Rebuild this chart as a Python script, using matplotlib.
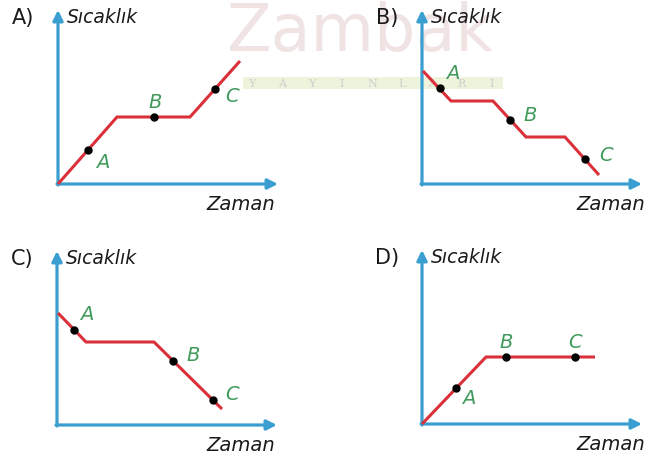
import matplotlib
matplotlib.use("Agg")
import matplotlib.pyplot as plt
from matplotlib.patches import Rectangle

# panel data (time, temperature) in arbitrary units
a_time = [0, 5.9, 13.2, 18.2]
a_temp = [0, 6.7, 6.7, 12.3]
a_dot_time = [3.0, 9.6, 15.7]
a_dot_temp = [3.4, 6.7, 9.5]

b_time = [0.1, 2.9, 7.1, 10.4, 14.3, 17.7]
b_temp = [11.3, 8.3, 8.3, 4.7, 4.7, 0.9]
b_dot_time = [1.8, 8.8, 16.3]
b_dot_temp = [9.6, 6.4, 2.5]

c_time = [0.1, 2.9, 9.7, 16.5]
c_temp = [11.2, 8.3, 8.3, 1.6]
c_dot_time = [1.7, 11.6, 15.6]
c_dot_temp = [9.5, 6.4, 2.5]

d_time = [0, 6.4, 17.3]
d_temp = [0, 6.7, 6.7]
d_dot_time = [3.4, 8.4, 15.3]
d_dot_temp = [3.6, 6.7, 6.7]

panel_names = ["A)", "B)", "C)", "D)"]
point_names = ["A", "B", "C"]
y_label = "Sıcaklık"
x_label = "Zaman"

BLUE = "#3a9fd0"
RED = "#d9303a"
GREEN = "#3f9a5c"

W, H = 646, 456
fig = plt.figure(figsize=(W / 100, H / 100), dpi=100)
fig.patch.set_facecolor("white")

# faint publisher watermark behind the panels
fig.patches.append(Rectangle((243 / W, 1 - 90 / H), 260 / W, 12 / H,
                             transform=fig.transFigure, facecolor="#eef4dc",
                             edgecolor="none", zorder=-2))
fig.text(360 / W, 1 - 33 / H, "Zambak", fontsize=47, color="#f0e3e3",
         ha="center", va="center", zorder=-1)
for i, ch in enumerate("YAYINLARI"):
    fig.text((252 + i * 30) / W, 1 - 84 / H, ch, fontsize=8,
             color="#cdcdcd", ha="center", va="center",
             family="DejaVu Serif", zorder=-1)

XMAX, YMAX = 22.0, 17.4


def panel(origin, name, t, temp, dt, dtemp, offsets, zaman_x):
    ox, oy = origin
    ax = fig.add_axes([ox / W, (H - oy) / H, XMAX * 10 / W, YMAX * 10 / H])
    ax.set_xlim(0, XMAX)
    ax.set_ylim(0, YMAX)
    ax.axis("off")
    ax.patch.set_alpha(0)

    arrow = dict(arrowstyle="-|>,head_length=0.6,head_width=0.3",
                 color=BLUE, lw=2.3, shrinkA=0, shrinkB=0)
    ax.annotate("", xy=(XMAX, 0), xytext=(-0.1, 0), arrowprops=arrow,
                annotation_clip=False)
    ax.annotate("", xy=(0, YMAX), xytext=(0, -0.1), arrowprops=arrow,
                annotation_clip=False)

    ax.plot(t, temp, color=RED, lw=2.2, solid_capstyle="butt",
            solid_joinstyle="miter", clip_on=False, zorder=3)
    ax.plot(dt, dtemp, "o", color="black", ms=5, clip_on=False, zorder=4)

    for lab, x, y, off in zip(point_names, dt, dtemp, offsets):
        ax.annotate(lab, (x, y), xytext=off, textcoords="offset pixels",
                    color=GREEN, fontsize=14, style="italic",
                    ha="center", va="center", annotation_clip=False)

    ax.text(-3.5, 16.7, name, fontsize=15, ha="center", va="center",
            color="#1a1a1a", clip_on=False)
    ax.text(0.9, 16.7, y_label, fontsize=13.5, style="italic",
            ha="left", va="center", color="#1a1a1a", clip_on=False)
    ax.text(zaman_x, -2.0, x_label, fontsize=14, style="italic",
            ha="right", va="center", color="#1a1a1a", clip_on=False)


panel((58, 185), panel_names[0], a_time, a_temp, a_dot_time, a_dot_temp,
      [(15, -12), (1, 15), (17, -7)], 21.7)
panel((422, 185), panel_names[1], b_time, b_temp, b_dot_time, b_dot_temp,
      [(13, 15), (20, 5), (21, 4)], 22.3)
panel((57, 426), panel_names[2], c_time, c_temp, c_dot_time, c_dot_temp,
      [(13, 16), (20, 6), (19, 6)], 21.8)
panel((422, 425), panel_names[3], d_time, d_temp, d_dot_time, d_dot_temp,
      [(13, -10), (0, 15), (0, 15)], 22.3)

fig.savefig("out.png", dpi=100)
